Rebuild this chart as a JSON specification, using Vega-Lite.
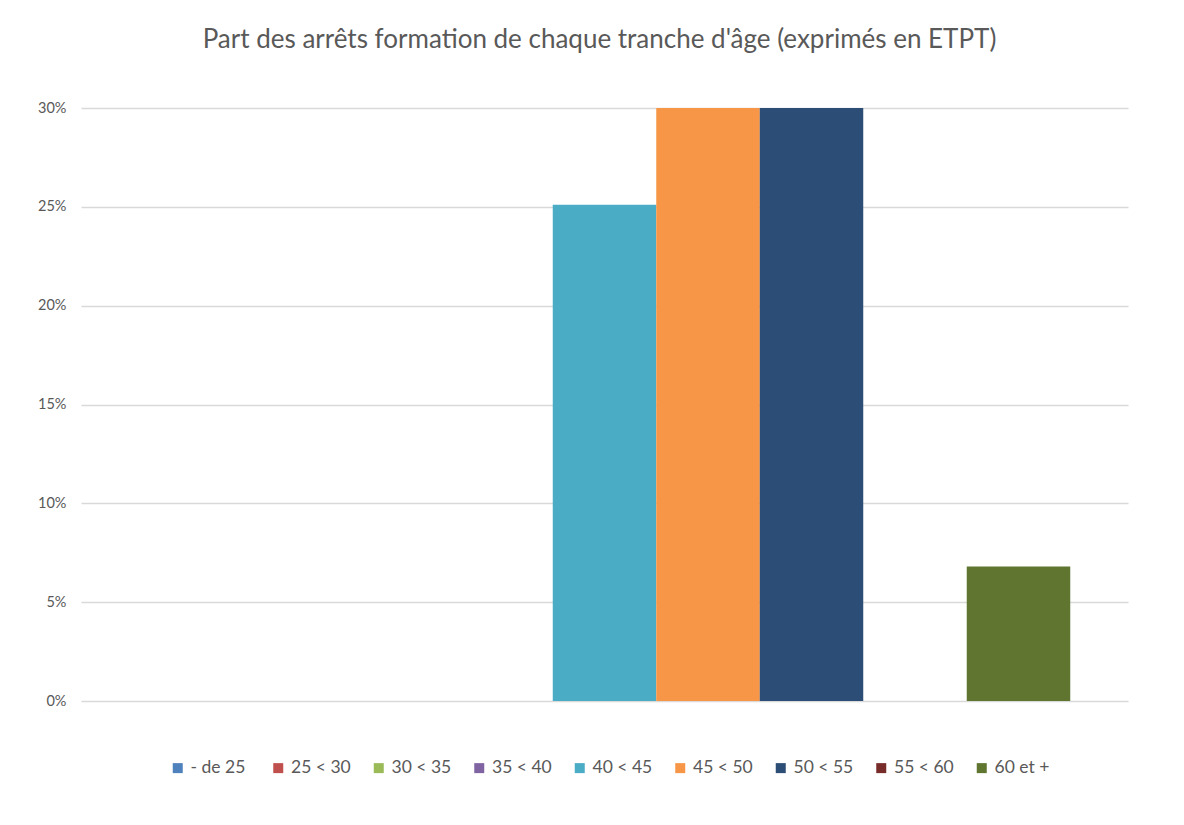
{
  "$schema": "https://vega.github.io/schema/vega-lite/v6.json",
  "autosize": {"type": "none"},
  "width": 1047,
  "height": 593,
  "padding": {"left": 81, "top": 108, "right": 56, "bottom": 124},
  "background": "#ffffff",
  "title": {
    "text": "Part des arrêts formation de chaque tranche d'âge (exprimés en ETPT)",
    "font": "Lato",
    "fontSize": 26,
    "fontWeight": "normal",
    "color": "#595959",
    "anchor": "middle",
    "frame": "group",
    "dx": -5,
    "offset": 47
  },
  "data": {
    "values": [
      {"tranche": "- de 25", "part": 0},
      {"tranche": "25 < 30", "part": 0},
      {"tranche": "30 < 35", "part": 0},
      {"tranche": "35 < 40", "part": 0},
      {"tranche": "40 < 45", "part": 0.251},
      {"tranche": "45 < 50", "part": 0.34},
      {"tranche": "50 < 55", "part": 0.341},
      {"tranche": "55 < 60", "part": 0},
      {"tranche": "60 et +", "part": 0.068}
    ]
  },
  "mark": {"type": "bar", "clip": true},
  "encoding": {
    "x": {
      "field": "tranche",
      "type": "nominal",
      "sort": null,
      "scale": {
        "domain": ["- de 25", "25 < 30", "30 < 35", "35 < 40", "40 < 45", "45 < 50", "50 < 55", "55 < 60", "60 et +"],
        "paddingInner": 0,
        "paddingOuter": 0.558
      },
      "axis": null
    },
    "y": {
      "field": "part",
      "type": "quantitative",
      "scale": {"domain": [0, 0.3], "nice": false},
      "axis": {
        "title": null,
        "values": [0, 0.05, 0.1, 0.15, 0.2, 0.25, 0.3],
        "format": ".0%",
        "domain": false,
        "ticks": false,
        "labelPadding": 15,
        "labelFont": "Lato",
        "labelFontSize": 14.5,
        "labelColor": "#595959",
        "gridColor": "#D9D9D9",
        "gridWidth": 1.5
      }
    },
    "color": {
      "field": "tranche",
      "type": "nominal",
      "scale": {
        "domain": ["- de 25", "25 < 30", "30 < 35", "35 < 40", "40 < 45", "45 < 50", "50 < 55", "55 < 60", "60 et +"],
        "range": ["#4F81BD", "#C0504D", "#9BBB59", "#8064A2", "#4BACC6", "#F79646", "#2C4D75", "#772C2A", "#5F7530"]
      },
      "legend": {
        "title": null,
        "orient": "none",
        "legendX": 88,
        "legendY": 651,
        "direction": "horizontal",
        "columns": 9,
        "gridAlign": "all",
        "columnPadding": 18.5,
        "symbolType": "square",
        "symbolSize": 100,
        "symbolStrokeWidth": 0,
        "symbolOffset": 0,
        "labelOffset": 4,
        "labelFont": "Lato",
        "labelFontSize": 17.5,
        "labelColor": "#595959"
      }
    }
  },
  "config": {"view": {"stroke": null}}
}
